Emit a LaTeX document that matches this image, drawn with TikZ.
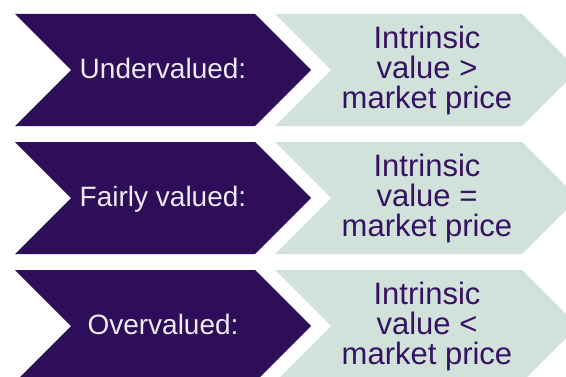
\documentclass[tikz,border=0pt]{standalone}
\usepackage{xcolor}
\usepackage{fontspec}
\setmainfont{Liberation Sans}
\usepackage{tikz}

\definecolor{deeppurple}{HTML}{2E0D59}
\definecolor{inkpurple}{HTML}{361262}
\definecolor{palemint}{HTML}{D0E2D9}
\definecolor{softwhite}{HTML}{EEEAF3}

\tikzset{
    darkchev/.style={fill=deeppurple},
    lightchev/.style={fill=palemint},
    verdict/.style={inner sep=0pt, anchor=base, text=softwhite, font=\fontsize{28bp}{30bp}\selectfont},
    compare/.style={inner sep=0pt, align=center, text=inkpurple, font=\fontsize{31bp}{30bp}\selectfont}
}

\begin{document}
\begin{tikzpicture}[x=1bp, y=1bp]
    \useasboundingbox (0, 0) rectangle (566, 376);
    % row 1
    \fill[darkchev] (15, 362) -- (255, 362) -- (311, 306) -- (255, 250) -- (15, 250) -- (71, 306) -- cycle;
    \fill[lightchev] (275, 362) -- (522, 362) -- (578, 306) -- (522, 250) -- (275, 250) -- (331, 306) -- cycle;
    \node[verdict] at (163, 298) (under) {Undervalued:};
    \node[compare] at (427, 306) (undercmp) {Intrinsic\\value \textgreater\\market price};
    % row 2
    \fill[darkchev] (15, 234) -- (255, 234) -- (311, 178) -- (255, 122) -- (15, 122) -- (71, 178) -- cycle;
    \fill[lightchev] (275, 234) -- (522, 234) -- (578, 178) -- (522, 122) -- (275, 122) -- (331, 178) -- cycle;
    \node[verdict] at (163, 170) (fair) {Fairly valued:};
    \node[compare] at (427, 178) (faircmp) {Intrinsic\\value =\\market price};
    % row 3
    \fill[darkchev] (15, 106) -- (255, 106) -- (311, 50) -- (255, -6) -- (15, -6) -- (71, 50) -- cycle;
    \fill[lightchev] (275, 106) -- (522, 106) -- (578, 50) -- (522, -6) -- (275, -6) -- (331, 50) -- cycle;
    \node[verdict] at (163, 42) (over) {Overvalued:};
    \node[compare] at (427, 50) (overcmp) {Intrinsic\\value \textless\\market price};
\end{tikzpicture}
\end{document}
